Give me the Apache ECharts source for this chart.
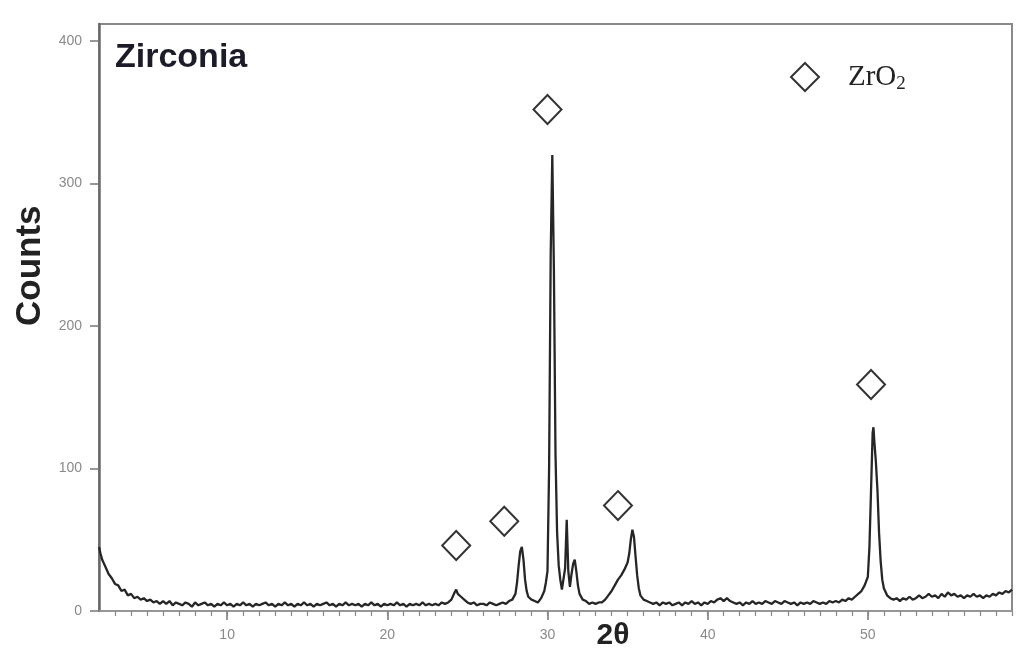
<!DOCTYPE html>
<html>
<head>
<meta charset="utf-8">
<title>Zirconia XRD</title>
<script src="https://cdn.jsdelivr.net/npm/echarts@6/dist/echarts.min.js"></script>
<style>
  html, body { margin: 0; padding: 0; background: #fff; }
  #chart { width: 1017px; height: 656px; }
</style>
</head>
<body>
<div id="chart"></div>
<script>
// Diffraction pattern of the zirconia sample: [2θ, counts]
const scanStart = [
  [2.0,45],[2.1,40],[2.2,36],[2.4,31],[2.6,26],[2.8,23],[3.0,19],[3.2,18],[3.4,14],[3.6,15],
  [3.8,11],[4.0,12],[4.2,9],[4.4,10],[4.6,8],[4.8,9],[5.0,7],[5.2,8],[5.4,6],[5.6,7],[5.8,5],[6.0,7]
];
const scanBaseline = [
  [6.2,5],[6.4,7],[6.6,4],[6.8,6],[7.0,5],[7.2,4],[7.4,6],[7.6,5],[7.8,3],[8.0,6],
  [8.2,4],[8.4,5],[8.6,6],[8.8,4],[9.0,5],[9.2,3],[9.4,5],[9.6,4],[9.8,6],[10.0,4],
  [10.2,5],[10.4,3],[10.6,5],[10.8,4],[11.0,6],[11.2,4],[11.4,5],[11.6,3],[11.8,5],[12.0,4],
  [12.2,5],[12.4,6],[12.6,4],[12.8,5],[13.0,3],[13.2,5],[13.4,4],[13.6,6],[13.8,4],[14.0,5],
  [14.2,3],[14.4,5],[14.6,4],[14.8,6],[15.0,4],[15.2,5],[15.4,3],[15.6,5],[15.8,4],[16.0,5],
  [16.2,6],[16.4,4],[16.6,5],[16.8,3],[17.0,5],[17.2,4],[17.4,6],[17.6,4],[17.8,5],[18.0,4],
  [18.2,5],[18.4,3],[18.6,5],[18.8,4],[19.0,6],[19.2,4],[19.4,5],[19.6,3],[19.8,5],[20.0,4],
  [20.2,5],[20.4,4],[20.6,6],[20.8,4],[21.0,5],[21.2,3],[21.4,5],[21.6,4],[21.8,5],[22.0,4],
  [22.2,6],[22.4,4],[22.6,5],[22.8,4],[23.0,5],[23.2,4],[23.4,6],[23.6,5],[23.8,6]
];
const scanPeaks = [
  [24.0,8],[24.2,13],[24.3,15],[24.4,12],[24.6,10],[24.8,8],[25.0,6],[25.2,5],[25.4,6],[25.6,4],
  [25.8,5],[26.0,5],[26.2,4],[26.4,6],[26.6,5],[26.8,4],[27.0,5],[27.2,6],[27.4,5],[27.6,7],
  [27.8,8],[28.0,12],[28.1,20],[28.2,32],[28.3,42],[28.4,45],[28.5,36],[28.6,22],[28.7,14],[28.8,10],
  [29.0,8],[29.2,7],[29.4,6],[29.6,9],[29.8,14],[29.9,20],[30.0,28],[30.1,100],[30.2,250],[30.3,320],
  [30.4,240],[30.5,110],[30.6,55],[30.7,32],[30.8,22],[30.9,15],[31.0,14],[31.1,30],[31.2,64],[31.3,28],
  [31.4,17],[31.5,26],[31.6,33],[31.7,36],[31.8,28],[31.9,18],[32.0,12],[32.2,8],[32.4,7],[32.6,5],
  [32.8,6],[33.0,5],[33.2,6],[33.4,6],[33.6,8],[33.8,11],[34.0,14],[34.2,18],[34.4,22],[34.6,25],
  [34.8,29],[35.0,34],[35.1,40],[35.2,50],[35.3,57],[35.4,52],[35.5,38],[35.6,25],[35.7,16],[35.8,11],
  [36.0,8],[36.2,7]
];
const scanTail = [
  [36.4,6],[36.6,5],[36.8,6],[37.0,4],[37.2,6],[37.4,5],[37.6,6],[37.8,4],[38.0,5],[38.2,6],
  [38.4,4],[38.6,6],[38.8,5],[39.0,7],[39.2,5],[39.4,6],[39.6,4],[39.8,6],[40.0,5],[40.2,7],
  [40.4,6],[40.6,8],[40.8,9],[41.0,7],[41.2,9],[41.4,7],[41.6,6],[41.8,5],[42.0,6],[42.2,4],
  [42.4,6],[42.6,5],[42.8,7],[43.0,5],[43.2,6],[43.4,5],[43.6,7],[43.8,6],[44.0,5],[44.2,7],
  [44.4,6],[44.6,5],[44.8,7],[45.0,6],[45.2,5],[45.4,6],[45.6,4],[45.8,6],[46.0,5],[46.2,6],
  [46.4,5],[46.6,7],[46.8,6],[47.0,5],[47.2,6],[47.4,5],[47.6,7],[47.8,6],[48.0,7],[48.2,6],
  [48.4,8],[48.6,7],[48.8,9],[49.0,8],[49.2,10],[49.4,12],[49.6,14],[49.8,18],[50.0,24],[50.1,45],
  [50.2,85],[50.3,125],[50.35,129],[50.4,120],[50.5,105],[50.6,85],[50.7,55],[50.8,35],[50.9,22],[51.0,16],
  [51.2,11],[51.4,9],[51.6,8],[51.8,9],[52.0,7],[52.2,9],[52.4,8],[52.6,10],[52.8,8],[53.0,9],
  [53.2,11],[53.4,9],[53.6,10],[53.8,12],[54.0,10],[54.2,11],[54.4,9],[54.6,12],[54.8,10],[55.0,13],
  [55.2,11],[55.4,12],[55.6,10],[55.8,11],[56.0,9],[56.2,11],[56.4,10],[56.6,12],[56.8,10],[57.0,11],
  [57.2,9],[57.4,11],[57.6,10],[57.8,12],[58.0,11],[58.2,13],[58.4,12],[58.6,14],[58.8,13],[59.0,15]
];

// ZrO2 reflection markers: [2θ, marker height]
const zro2Markers = [[24.3,46],[27.3,63],[30.0,352],[34.4,74],[50.2,159]];

// Tick labels
const xTickValues = [10, 20, 30, 40, 50];
const xMinorTickValues = [];
for (let v = 3; v <= 59; v++) xMinorTickValues.push(v);
const yTickValues = [0, 100, 200, 300, 400];

const scan = scanStart.concat(scanBaseline, scanPeaks, scanTail);

const chart = echarts.init(document.getElementById('chart'), null, { renderer: 'canvas' });

const sans = 'Liberation Sans, Arial, sans-serif';
const serif = 'Liberation Serif, Times New Roman, serif';
const tickLabelStyle = { color: '#8a8a8a', fontSize: 14, fontFamily: sans };

chart.setOption({
  backgroundColor: '#ffffff',
  animation: false,
  title: {
    text: 'Zirconia',
    left: 110,
    top: 36,
    textStyle: { fontSize: 34, fontWeight: 'bold', color: '#1c1c28', fontFamily: sans }
  },
  legend: {
    left: 785,
    top: 57,
    itemWidth: 28,
    itemHeight: 28,
    data: ['ZrO2'],
    formatter: () => '{a|ZrO}{b|2}',
    textStyle: {
      rich: {
        a: { fontSize: 29, fontFamily: serif, color: '#222', padding: [0, 0, 0, 24] },
        b: { fontSize: 19, fontFamily: serif, color: '#222', padding: [14, 0, 0, 0] }
      }
    }
  },
  grid: {
    left: 99, right: 5, top: 24, bottom: 45,
    show: true, borderColor: '#8a8a8a', borderWidth: 2
  },
  xAxis: [{
    type: 'value',
    min: 2, max: 59,
    axisLine: { onZero: false, lineStyle: { color: '#9a9a9a', width: 1.5 } },
    axisTick: { show: true, customValues: xTickValues, length: 9, lineStyle: { color: '#777', width: 1.5 } },
    axisLabel: { customValues: xTickValues, margin: 17, ...tickLabelStyle },
    splitLine: { show: false }
  }, {
    type: 'value',
    min: 2, max: 59,
    position: 'bottom',
    axisLine: { show: false },
    axisTick: { show: true, customValues: xMinorTickValues, length: 5, lineStyle: { color: '#888', width: 1.2 } },
    axisLabel: { show: false },
    splitLine: { show: false }
  }],
  yAxis: {
    type: 'value',
    min: 0, max: 412,
    axisLine: { show: true, lineStyle: { color: '#6a6a6a', width: 2.5 } },
    axisTick: { show: true, customValues: yTickValues, length: 9, lineStyle: { color: '#777', width: 1.5 } },
    axisLabel: { customValues: yTickValues, margin: 17, ...tickLabelStyle },
    splitLine: { show: false }
  },
  graphic: [
    {
      type: 'text',
      x: 13, y: 326,
      rotation: Math.PI / 2,
      style: { text: 'Counts', fontSize: 35, fontWeight: 'bold', fill: '#222', fontFamily: sans, textVerticalAlign: 'top' }
    },
    {
      type: 'text',
      x: 613, y: 636,
      style: { text: '2θ', fontSize: 30, fontWeight: 'bold', fill: '#222', fontFamily: sans, textAlign: 'center', textVerticalAlign: 'middle' }
    }
  ],
  series: [
    {
      name: 'Zirconia',
      type: 'line',
      data: scan,
      showSymbol: false,
      symbol: 'none',
      lineStyle: { color: '#262626', width: 2.3 },
      z: 3
    },
    {
      name: 'ZrO2',
      type: 'scatter',
      data: zro2Markers,
      symbol: 'emptyDiamond',
      symbolSize: [28, 29],
      itemStyle: { color: '#000', borderWidth: 1.6 },
      z: 4
    }
  ]
});
</script>
</body>
</html>
